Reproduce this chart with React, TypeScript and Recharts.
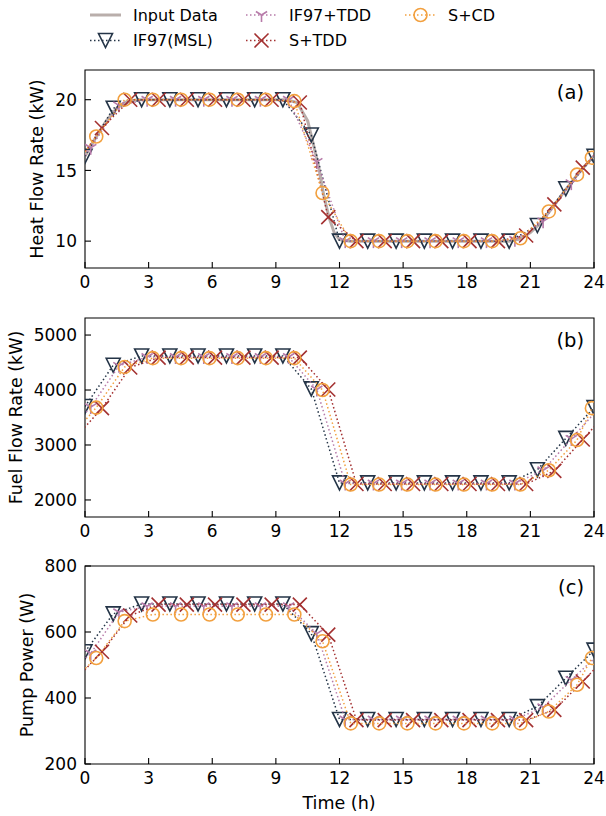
import React from "react"
import { ScatterChart, Scatter, XAxis, YAxis, ReferenceArea } from "recharts"

const FONT = "'DejaVu Sans', sans-serif"

const xTicks = [0, 3, 6, 9, 12, 15, 18, 21, 24]

// sample times (h) of each method; the lagged ones carry one step before 0 and after 24 (clipped)
const tMSL = [0, 1.33, 2.67, 4, 5.33, 6.67, 8, 9.33, 10.67, 12, 13.33, 14.67, 16, 17.33, 18.67, 20, 21.33, 22.67, 24]
const tIF97TDD = [-1.07, 0.27, 1.6, 2.93, 4.27, 5.6, 6.93, 8.27, 9.6, 10.93, 12.27, 13.6, 14.93, 16.27, 17.6, 18.93, 20.27, 21.6, 22.93, 24.27]
const tSTDD = [-0.53, 0.8, 2.13, 3.47, 4.8, 6.13, 7.47, 8.8, 10.13, 11.47, 12.8, 14.13, 15.47, 16.8, 18.13, 19.47, 20.8, 22.13, 23.47, 24.8]
const tSCD = [-0.8, 0.53, 1.87, 3.2, 4.53, 5.87, 7.2, 8.53, 9.87, 11.2, 12.53, 13.87, 15.2, 16.53, 17.87, 19.2, 20.53, 21.87, 23.2, 23.9]

// input heat load profile
const tInput = [0, 0.5, 1, 1.5, 2, 2.5, 3, 9.5, 10, 10.5, 11, 11.25, 11.5, 11.75, 12, 12.5, 20, 20.5, 21, 21.5, 22, 22.5, 23, 23.5, 24]
const heatInput = [16.0, 17.3, 18.5, 19.4, 19.9, 20, 20, 20, 19.8, 18.5, 15.4, 13.3, 11.7, 10.6, 10.1, 10, 10, 10.15, 10.6, 11.3, 12.3, 13.3, 14.3, 15.2, 16.0]

// (a) heat flow rate, kW
const heatMSL = [16.0, 19.4, 20, 20, 20, 20, 20, 20, 17.5, 10, 10, 10, 10, 10, 10, 10, 11.1, 13.7, 16.0]
const heatIF97TDD = [14.1, 16.6, 19.6, 20, 20, 20, 20, 20, 20, 15.6, 10, 10, 10, 10, 10, 10, 10.1, 11.4, 14.1, 16.6]
const heatSTDD = [15.2, 18.0, 20, 20, 20, 20, 20, 20, 19.8, 11.7, 10, 10, 10, 10, 10, 10, 10.4, 12.6, 15.2, 17.3]
const heatSCD = [14.7, 17.4, 20, 20, 20, 20, 20, 20, 19.9, 13.4, 10, 10, 10, 10, 10, 10, 10.2, 12.1, 14.7, 15.9]

// (b) fuel flow rate, kW
const fuelMSL = [3700, 4450, 4620, 4620, 4620, 4620, 4620, 4620, 4020, 2310, 2310, 2310, 2310, 2310, 2310, 2310, 2550, 3120, 3680]
const fuelIF97TDD = [3110, 3690, 4440, 4600, 4600, 4600, 4600, 4600, 4600, 4010, 2300, 2300, 2300, 2300, 2300, 2300, 2300, 2540, 3110, 3690]
const fuelSTDD = [3100, 3670, 4410, 4590, 4590, 4590, 4590, 4590, 4590, 4010, 2290, 2290, 2290, 2290, 2290, 2290, 2290, 2530, 3100, 3670]
const fuelSCD = [3090, 3680, 4420, 4580, 4580, 4580, 4580, 4580, 4580, 4000, 2280, 2280, 2280, 2280, 2280, 2280, 2280, 2540, 3090, 3670]

// (c) pump power, W
const pumpMSL = [540, 655, 685, 685, 685, 685, 685, 685, 595, 335, 335, 335, 335, 335, 335, 335, 374, 460, 545]
const pumpIF97TDD = [455, 535, 660, 678, 678, 678, 678, 678, 678, 595, 335, 335, 335, 335, 335, 335, 335, 372, 455, 535]
const pumpSTDD = [450, 540, 650, 683, 683, 683, 683, 683, 683, 592, 333, 333, 333, 333, 333, 333, 333, 364, 450, 540]
const pumpSCD = [440, 521, 633, 653, 653, 653, 653, 653, 653, 572, 323, 323, 323, 323, 323, 323, 323, 359, 440, 521]

const GRAY = "#b9aeab"
const NAVY = "#243447"
const PINK = "#b77ba9"
const RED = "#a33030"
const ORANGE = "#f2a03f"

type Kind = "tri" | "y" | "x" | "o" | "none"

const pts = (t: number[], v: number[]) => t.map((x, i) => ({ t: x, v: v[i] }))

function Marker({ kind, cx, cy, color }: { kind: Kind; cx: number; cy: number; color: string }) {
  const s = 7
  if (kind === "tri")
    return (
      <polygon
        points={`${cx - s},${cy - s} ${cx + s},${cy - s} ${cx},${cy + s}`}
        fill="none"
        stroke={color}
        strokeWidth={1.6}
      />
    )
  if (kind === "y")
    return (
      <g stroke={color} strokeWidth={1.6}>
        <line x1={cx} y1={cy} x2={cx} y2={cy + s} />
        <line x1={cx} y1={cy} x2={cx + 0.8 * s} y2={cy - 0.5 * s} />
        <line x1={cx} y1={cy} x2={cx - 0.8 * s} y2={cy - 0.5 * s} />
      </g>
    )
  if (kind === "x")
    return (
      <g stroke={color} strokeWidth={1.6}>
        <line x1={cx - s} y1={cy - s} x2={cx + s} y2={cy + s} />
        <line x1={cx - s} y1={cy + s} x2={cx + s} y2={cy - s} />
      </g>
    )
  if (kind === "o") return <circle cx={cx} cy={cy} r={6.5} fill="none" stroke={color} strokeWidth={1.6} />
  return <g />
}

interface Series {
  name: string
  kind: Kind
  color: string
  t: number[]
  v: number[]
}

const methods = (msl: number[], tdd: number[], stdd: number[], scd: number[]): Series[] => [
  { name: "IF97(MSL)", kind: "tri", color: NAVY, t: tMSL, v: msl },
  { name: "IF97+TDD", kind: "y", color: PINK, t: tIF97TDD, v: tdd },
  { name: "S+TDD", kind: "x", color: RED, t: tSTDD, v: stdd },
  { name: "S+CD", kind: "o", color: ORANGE, t: tSCD, v: scd },
]

const renderXTick = (p: any) => (
  <g>
    <line x1={p.x} x2={p.x} y1={p.y} y2={p.y - 6} stroke="#000" strokeWidth={1.1} />
    <text x={p.x} y={p.y + 20} textAnchor="middle" fontSize={17} fontFamily={FONT} fill="#000">
      {p.payload.value}
    </text>
  </g>
)

const renderYTick = (p: any) => (
  <g>
    <line x1={p.x} x2={p.x + 6} y1={p.y} y2={p.y} stroke="#000" strokeWidth={1.1} />
    <text x={p.x - 8} y={p.y} dy="0.36em" textAnchor="end" fontSize={17} fontFamily={FONT} fill="#000">
      {p.payload.value}
    </text>
  </g>
)

function Panel({
  top,
  bottom,
  domain,
  yTicks,
  series,
  input,
}: {
  top: number
  bottom: number
  domain: [number, number]
  yTicks: number[]
  series: Series[]
  input?: { t: number[]; v: number[] }
}) {
  return (
    <div style={{ position: "absolute", left: 0, top: 0 }}>
      <ScatterChart width={606} height={816} margin={{ top, right: 12, bottom: 0, left: 0 }}>
        <XAxis
          type="number"
          dataKey="t"
          domain={[0, 24]}
          allowDataOverflow
          ticks={xTicks}
          interval={0}
          height={816 - bottom}
          tickSize={0}
          tickMargin={0}
          axisLine={false}
          tickLine={false}
          tick={renderXTick}
        />
        <YAxis
          type="number"
          dataKey="v"
          domain={domain}
          allowDataOverflow
          ticks={yTicks}
          interval={0}
          width={85}
          tickSize={0}
          tickMargin={0}
          axisLine={false}
          tickLine={false}
          tick={renderYTick}
        />
        <ReferenceArea x1={0} x2={24} y1={domain[0]} y2={domain[1]} fill="none" stroke="#000" strokeWidth={1.1} />
        {input && (
          <Scatter
            data={pts(input.t, input.v)}
            fill={GRAY}
            line={{ stroke: GRAY, strokeWidth: 3 }}
            shape={() => <g />}
            isAnimationActive={false}
          />
        )}
        {series.map((s) => (
          <Scatter
            key={s.name}
            name={s.name}
            data={pts(s.t, s.v)}
            fill={s.color}
            line={{ stroke: s.color, strokeWidth: 1.5, strokeDasharray: "1.5 2.5" }}
            shape={(p: any) => <Marker kind={s.kind} cx={p.cx} cy={p.cy} color={s.color} />}
            isAnimationActive={false}
          />
        ))}
      </ScatterChart>
    </div>
  )
}

const legendItems: { name: string; kind: Kind; color: string; x: number; y: number; solid?: boolean }[] = [
  { name: "Input Data", kind: "none", color: GRAY, x: 90, y: 15, solid: true },
  { name: "IF97(MSL)", kind: "tri", color: NAVY, x: 90, y: 40.5 },
  { name: "IF97+TDD", kind: "y", color: PINK, x: 246, y: 15 },
  { name: "S+TDD", kind: "x", color: RED, x: 246, y: 40.5 },
  { name: "S+CD", kind: "o", color: ORANGE, x: 405, y: 15 },
]

function Overlay() {
  const yLabel = (text: string, x: number, top: number, bottom: number) => {
    const cy = (top + bottom) / 2
    return (
      <text
        x={x}
        y={cy}
        transform={`rotate(-90, ${x}, ${cy})`}
        textAnchor="middle"
        dominantBaseline="central"
        fontSize={17.5}
        fontFamily={FONT}
        fill="#000"
      >
        {text}
      </text>
    )
  }
  return (
    <svg width={606} height={816} style={{ position: "absolute", left: 0, top: 0, pointerEvents: "none" }}>
      {legendItems.map((it) => (
        <g key={it.name}>
          <line
            x1={it.x}
            x2={it.x + 31}
            y1={it.y}
            y2={it.y}
            stroke={it.color}
            strokeWidth={it.solid ? 3 : 1.5}
            strokeDasharray={it.solid ? undefined : "1.5 2.5"}
          />
          <Marker kind={it.kind} cx={it.x + 15.5} cy={it.y} color={it.color} />
          <text x={it.x + 43} y={it.y + 5.8} fontSize={16} fontFamily={FONT} fill="#000">
            {it.name}
          </text>
        </g>
      ))}
      {yLabel("Heat Flow Rate (kW)", 37, 70, 268)}
      {yLabel("Fuel Flow Rate (kW)", 15.5, 318, 517)}
      {yLabel("Pump Power (W)", 26.5, 566, 764)}
      <text x={584} y={99} textAnchor="end" fontSize={19.5} fontFamily={FONT} fill="#000">(a)</text>
      <text x={584} y={346.5} textAnchor="end" fontSize={19.5} fontFamily={FONT} fill="#000">(b)</text>
      <text x={584} y={594} textAnchor="end" fontSize={19.5} fontFamily={FONT} fill="#000">(c)</text>
      <text x={339} y={809} textAnchor="middle" fontSize={17.5} fontFamily={FONT} fill="#000">Time (h)</text>
    </svg>
  )
}

export default function App() {
  return (
    <div style={{ position: "absolute", left: 0, top: 0, width: 606, height: 816, background: "#fff" }}>
      <Panel
        top={70}
        bottom={268}
        domain={[8.1, 22.1]}
        yTicks={[10, 15, 20]}
        input={{ t: tInput, v: heatInput }}
        series={methods(heatMSL, heatIF97TDD, heatSTDD, heatSCD)}
      />
      <Panel
        top={318}
        bottom={517}
        domain={[1690, 5310]}
        yTicks={[2000, 3000, 4000, 5000]}
        series={methods(fuelMSL, fuelIF97TDD, fuelSTDD, fuelSCD)}
      />
      <Panel
        top={566}
        bottom={764}
        domain={[200, 800]}
        yTicks={[200, 400, 600, 800]}
        series={methods(pumpMSL, pumpIF97TDD, pumpSTDD, pumpSCD)}
      />
      <Overlay />
    </div>
  )
}
